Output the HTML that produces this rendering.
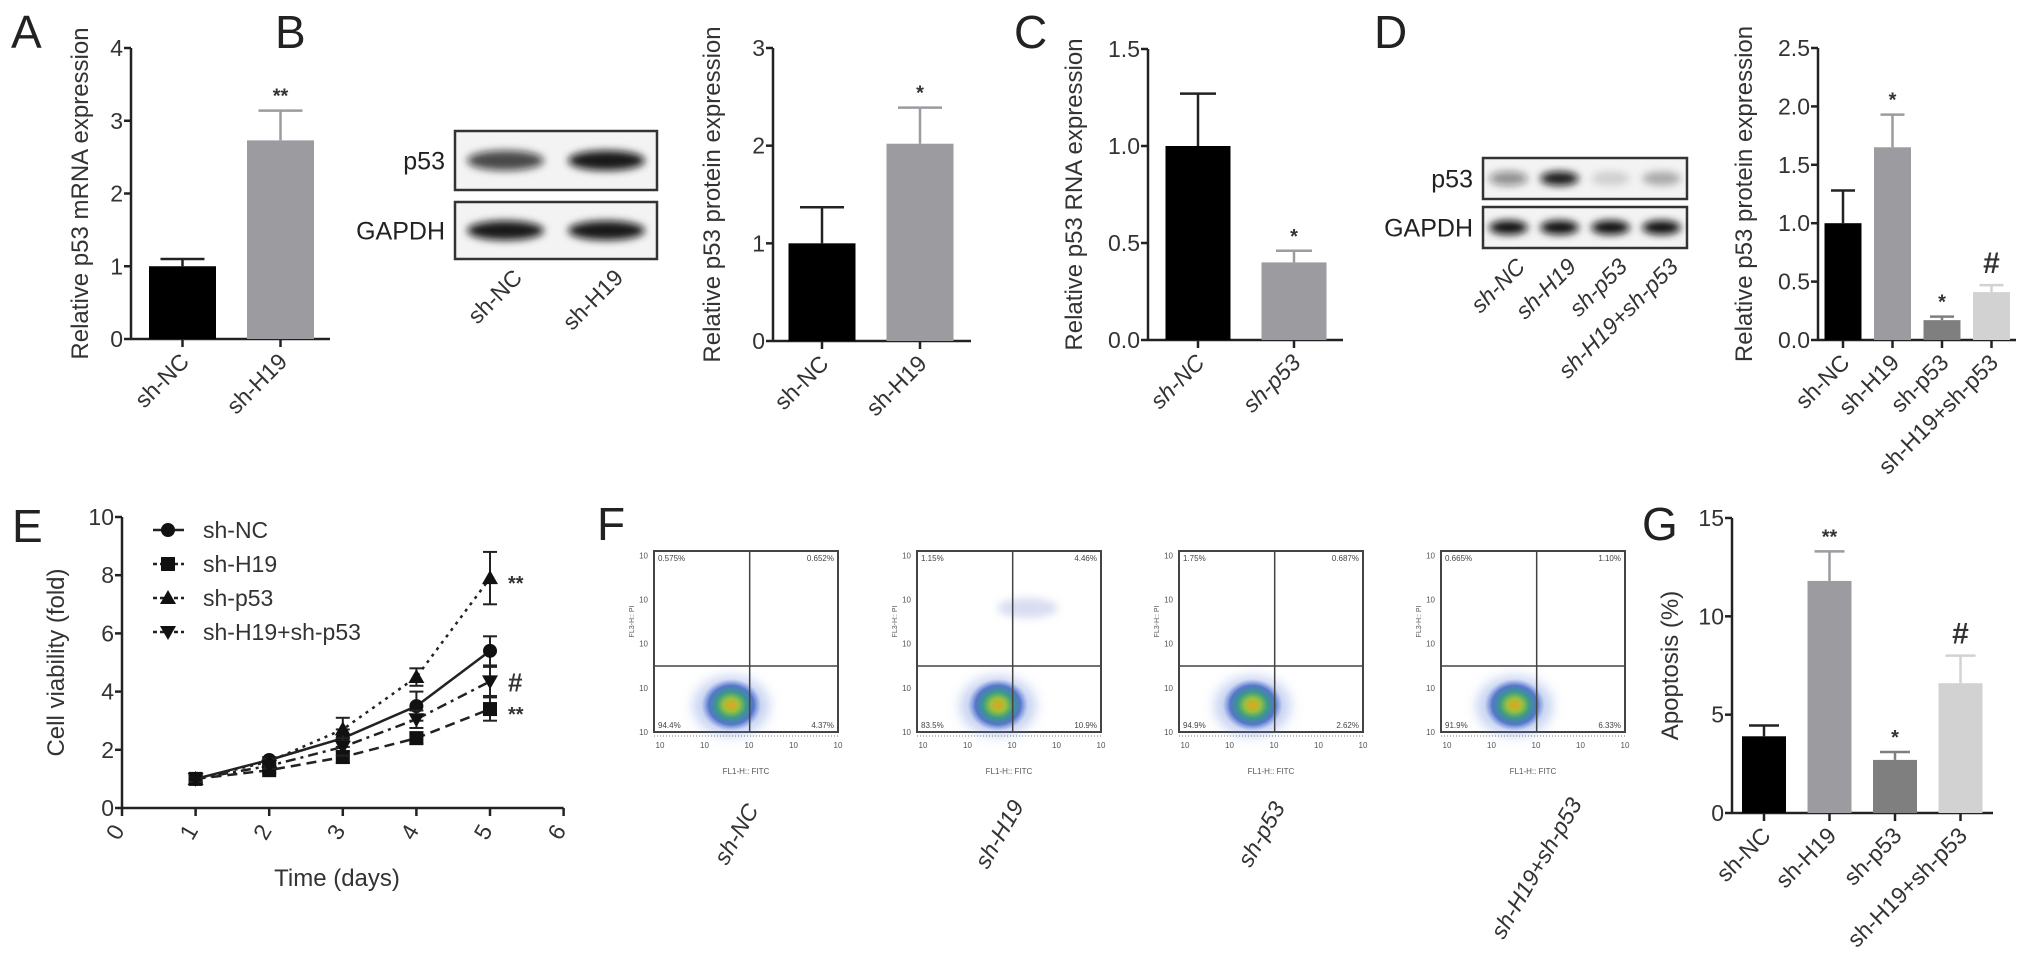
<!DOCTYPE html>
<html><head><meta charset="utf-8"><style>
html,body{margin:0;padding:0;background:#fff;}
svg{display:block;font-family:"Liberation Sans",Arial,sans-serif;}
</style></head><body>
<svg id="fig" width="2031" height="969" viewBox="0 0 2031 969" xmlns="http://www.w3.org/2000/svg">
<defs>
<filter id="blur" x="-50%" y="-50%" width="200%" height="200%"><feGaussianBlur stdDeviation="4"/></filter>
<filter id="blur2" x="-50%" y="-50%" width="200%" height="200%"><feGaussianBlur stdDeviation="6"/></filter>
<radialGradient id="dens" cx="50%" cy="50%" r="50%">
<stop offset="0" stop-color="#e8a020"/><stop offset="0.25" stop-color="#9cc23a"/><stop offset="0.5" stop-color="#3a9a8a"/><stop offset="0.75" stop-color="#3a60c0" stop-opacity="0.8"/><stop offset="1" stop-color="#6080e0" stop-opacity="0"/>
</radialGradient>
</defs>
<g id="layer"></g>
</svg>
<script>
// ---- Data ----
const groups2A = ["sh-NC","sh-H19"];
const valsA = [1.0, 2.73];
const errA = [0.1, 0.41];
const sigA = ["", "**"];
const ticksA = ["0","1","2","3","4"];

const groups2B = ["sh-NC","sh-H19"];
const valsB = [1.0, 2.02];
const errB = [0.37, 0.37];
const sigB = ["", "*"];
const ticksB = ["0","1","2","3"];

const groupsC = ["sh-NC","sh-p53"];
const valsC = [1.0, 0.40];
const errC = [0.27, 0.06];
const sigC = ["", "*"];
const ticksC = ["0.0","0.5","1.0","1.5"];

const groups4 = ["sh-NC","sh-H19","sh-p53","sh-H19+sh-p53"];
const valsD = [1.0, 1.65, 0.17, 0.41];
const errD = [0.28, 0.28, 0.03, 0.06];
const sigD = ["", "*", "*", "#"];
const ticksD = ["0.0","0.5","1.0","1.5","2.0","2.5"];

const valsG = [3.9, 11.8, 2.7, 6.6];
const errG = [0.55, 1.5, 0.4, 1.4];
const sigG = ["", "**", "*", "#"];
const ticksG = ["0","5","10","15"];

const daysE = [1,2,3,4,5];
const seriesNames = ["sh-NC","sh-H19","sh-p53","sh-H19+sh-p53"];
const eNC = [1.0, 1.65, 2.4, 3.5, 5.4];
const eH19 = [1.0, 1.3, 1.75, 2.4, 3.4];
const eP53 = [1.0, 1.6, 2.7, 4.5, 7.9];
const eCombo = [1.0, 1.45, 2.1, 3.05, 4.35];
const errNC = [0.1, 0.1, 0.3, 0.5, 0.5];
const errH19 = [0.1, 0.1, 0.2, 0.2, 0.4];
const errP53 = [0.1, 0.1, 0.4, 0.3, 0.9];
const errCombo = [0.1, 0.1, 0.3, 0.3, 0.5];
const sigE = ["", "**", "**", "#"];
const ticksEY = ["0","2","4","6","8","10"];
const ticksEX = ["0","1","2","3","4","5","6"];

const flowLabels = ["sh-NC","sh-H19","sh-p53","sh-H19+sh-p53"];
const quadUL = ["0.575%","1.15%","1.75%","0.665%"];
const quadUR = ["0.652%","4.46%","0.687%","1.10%"];
const quadLL = ["94.4%","83.5%","94.9%","91.9%"];
const quadLR = ["4.37%","10.9%","2.62%","6.33%"];

// ---- helpers ----
const NS = "http://www.w3.org/2000/svg";
const root = document.getElementById("layer");
function mk(tag, attrs, parent){
  const e = document.createElementNS(NS, tag);
  for (const k in attrs) e.setAttribute(k, attrs[k]);
  (parent||root).appendChild(e);
  return e;
}
function txt(str, attrs, parent){
  const e = mk("text", attrs, parent);
  e.textContent = str;
  return e;
}
const barFills = ["#000000","#9b9ba0","#7f7f80","#d2d2d2"];

function barChart(cfg, cats, vals, errs, sigs, ticks){
  const g = mk("g", {});
  
  
  const maxV = cfg.max;
  const ys = v => cfg.y0 - (v / maxV) * (cfg.y0 - cfg.yTop);
  const xs = i => cfg.c0 + i * cfg.step;
  // y axis
  const ya = mk("line", {x1:cfg.x0, y1:cfg.yTop, x2:cfg.x0, y2:cfg.y0, stroke:"#222", "stroke-width":2.5}, g);
  
  
  const xa = mk("line", {x1:cfg.x0, y1:cfg.y0, x2:cfg.xEnd, y2:cfg.y0, stroke:"#222", "stroke-width":2.5}, g);
  
  
  ticks.forEach((t, i) => {
    const v = i * maxV / (ticks.length - 1);
    const y = ys(v);
    mk("line", {x1:cfg.x0-7, y1:y, x2:cfg.x0, y2:y, stroke:"#222", "stroke-width":2.5}, g);
    const tl = txt(t, {x:cfg.x0-8, y:y+8, "text-anchor":"end", "font-size":23, fill:"#333"}, g);
    
    
  });
  const yt = txt(cfg.title, {x:0, y:0, "text-anchor":"middle", "font-size":24, fill:"#333", transform:`translate(${cfg.titleX},${(cfg.yTop+cfg.y0)/2}) rotate(-90)`}, g);
  
  
  cats.forEach((c, i) => {
    const cx = xs(i);
    const top = ys(vals[i]);
    const b = mk("rect", {x:cx-cfg.bw/2, y:top, width:cfg.bw, height:cfg.y0-top, fill:barFills[i]}, g);
    
    
    const ey = ys(vals[i] + errs[i]);
    const col = i === 0 ? "#222" : barFills[i];
    mk("line", {x1:cx, y1:top, x2:cx, y2:ey, stroke:col, "stroke-width":2.5}, g);
    mk("line", {x1:cx-cfg.cap, y1:ey, x2:cx+cfg.cap, y2:ey, stroke:col, "stroke-width":2.5}, g);
    mk("line", {x1:cx, y1:cfg.y0, x2:cx, y2:cfg.y0+8, stroke:"#222", "stroke-width":2.5}, g);
    if (sigs[i]) {
      const s = txt(sigs[i], {x:cx, y:ey - (sigs[i]==="#"?12:8), "text-anchor":"middle", "font-size":sigs[i]==="#"?30:20, "font-weight":"bold", fill:"#333"}, g);
      
      
    }
    const lx = cx + 8, ly = cfg.y0 + 24;
    const l = txt(c, {x:0, y:0, "text-anchor":"end", "font-size":23, fill:"#333", "font-style":cfg.italic?"italic":"normal", transform:`translate(${lx},${ly}) rotate(-45)`}, g);
    
    
  });
}

barChart({name:"chart-a", x0:131, yTop:48, y0:339, xEnd:330, c0:182.5, step:98, bw:67, cap:22, max:4, title:"Relative p53 mRNA expression", titleX:88}, groups2A, valsA, errA, sigA, ticksA);
barChart({name:"chart-b", x0:773, yTop:48, y0:341, xEnd:971, c0:822, step:98, bw:67, cap:22, max:3, title:"Relative p53 protein expression", titleX:720}, groups2B, valsB, errB, sigB, ticksB);
barChart({name:"chart-c", x0:1148, yTop:49, y0:340, xEnd:1343, c0:1198, step:96, bw:65, cap:18, max:1.5, title:"Relative p53 RNA expression", titleX:1082, italic:true}, groupsC, valsC, errC, sigC, ticksC);
barChart({name:"chart-d", x0:1818, yTop:48, y0:340, xEnd:2016, c0:1843, step:49.5, bw:37, cap:12, max:2.5, title:"Relative p53 protein expression", titleX:1752}, groups4, valsD, errD, sigD, ticksD);
barChart({name:"chart-g", x0:1732, yTop:518, y0:813, xEnd:1993, c0:1764, step:65.5, bw:44, cap:15, max:15, title:"Apoptosis (%)", titleX:1678}, groups4, valsG, errG, sigG, ticksG);

// panel letters
[["A",11,48],["B",275,48],["C",1014,48],["D",1374,48],["E",12,542],["F",597,540],["G",1642,540]].forEach(p=>{
  const t = txt(p[0], {x:p[1], y:p[2], "font-size":46, fill:"#222"});
  
  
});

// ---- Western blots ----
function blot(cfg, lanes, p53I, gI){
  const g = mk("g", {});
  
  
  const w = cfg.x1 - cfg.x0;
  [[cfg.y0,cfg.y1,"p53",p53I],[cfg.y2,cfg.y3,"GAPDH",gI]].forEach(r=>{
    mk("rect", {x:cfg.x0, y:r[0], width:w, height:r[1]-r[0], fill:"#f3f3f3", stroke:"#333", "stroke-width":2.5}, g);
    const lb = txt(r[2], {x:cfg.x0-10, y:(r[0]+r[1])/2+9, "text-anchor":"end", "font-size":25, fill:"#222"}, g);
    
    
    lanes.forEach((ln, i) => {
      const cx = cfg.x0 + w*(i+0.5)/lanes.length;
      const e = mk("ellipse", {cx:cx, cy:(r[0]+r[1])/2, rx:w/lanes.length*0.38, ry:(r[1]-r[0])*0.17, fill:"#111", "fill-opacity":r[3][i], filter:"url(#blur)"}, g);
      
      
    });
  });
  lanes.forEach((ln, i) => {
    const cx = cfg.x0 + w*(i+0.5)/lanes.length;
    const l = txt(ln, {x:0, y:0, "text-anchor":"end", "font-size":23, fill:"#333", "font-style":cfg.italic?"italic":"normal", transform:`translate(${cx+18},${cfg.y3+20}) rotate(-45)`}, g);
    
    
  });
}
blot({name:"blot-b", x0:455, x1:657, y0:131, y1:190, y2:202, y3:259}, groups2B, [0.75,0.95], [0.95,0.95]);
blot({name:"blot-d", x0:1483, x1:1687, y0:158, y1:199, y2:207, y3:248, italic:true}, groups4, [0.45,0.95,0.15,0.3], [1,1,1,1]);

// ---- Line chart E ----
(function(){
  const g = mk("g", {});
  
  
  const X0 = 122, Y0 = 808, YT = 517, xPer = 73.6, yMax = 10;
  const xs = d => X0 + d * xPer;
  const ys = v => Y0 - v / yMax * (Y0 - YT);
  const ya = mk("line", {x1:X0, y1:YT, x2:X0, y2:Y0, stroke:"#222", "stroke-width":2.5}, g);
  
  
  const xa = mk("line", {x1:X0, y1:Y0, x2:xs(6), y2:Y0, stroke:"#222", "stroke-width":2.5}, g);
  
  
  ticksEY.forEach((t,i)=>{
    const y = ys(i*2);
    mk("line", {x1:X0-7, y1:y, x2:X0, y2:y, stroke:"#222", "stroke-width":2.5}, g);
    const tl = txt(t, {x:X0-8, y:y+8, "text-anchor":"end", "font-size":23, fill:"#333"}, g);
    
    
  });
  ticksEX.forEach((t,i)=>{
    const x = xs(i);
    mk("line", {x1:x, y1:Y0, x2:x, y2:Y0+8, stroke:"#222", "stroke-width":2.5}, g);
    const tl = txt(t, {x:0, y:0, "text-anchor":"middle", "font-size":23, fill:"#333", transform:`translate(${x},${Y0+28}) rotate(-60)`}, g);
    
    
  });
  const xt = txt("Time (days)", {x:337, y:886, "text-anchor":"middle", "font-size":24, fill:"#333"}, g);
  
  
  const yt = txt("Cell viability (fold)", {x:0, y:0, "text-anchor":"middle", "font-size":24, fill:"#333", transform:`translate(64,${(YT+Y0)/2}) rotate(-90)`}, g);
  
  

  const allS = [eNC, eH19, eP53, eCombo];
  const allE = [errNC, errH19, errP53, errCombo];
  const dashes = ["none", "10,6", "3,5", "10,5,3,5"];
  const markers = ["circle","square","tri","itri"];
  function marker(type, x, y, parent){
    let m;
    if (type==="circle") m = mk("circle", {cx:x, cy:y, r:7, fill:"#111"}, parent);
    else if (type==="square") m = mk("rect", {x:x-7, y:y-7, width:14, height:14, fill:"#111"}, parent);
    else if (type==="tri") m = mk("polygon", {points:`${x},${y-8} ${x-8},${y+6} ${x+8},${y+6}`, fill:"#111"}, parent);
    else m = mk("polygon", {points:`${x},${y+8} ${x-8},${y-6} ${x+8},${y-6}`, fill:"#111"}, parent);
    return m;
  }
  allS.forEach((s, k)=>{
    const pts = s.map((v,i)=> xs(daysE[i]) + "," + ys(v)).join(" ");
    const pl = mk("polyline", {points:pts, fill:"none", stroke:"#222", "stroke-width":2.5, "stroke-dasharray":dashes[k]}, g);
    
    
    s.forEach((v,i)=>{
      const x = xs(daysE[i]);
      const e = allE[k][i];
      mk("line", {x1:x, y1:ys(v-e), x2:x, y2:ys(v+e), stroke:"#222", "stroke-width":2}, g);
      mk("line", {x1:x-7, y1:ys(v+e), x2:x+7, y2:ys(v+e), stroke:"#222", "stroke-width":2}, g);
      mk("line", {x1:x-7, y1:ys(v-e), x2:x+7, y2:ys(v-e), stroke:"#222", "stroke-width":2}, g);
      const m = marker(markers[k], x, ys(v), g);
      
      
    });
    if (sigE[k]) {
      const last = s[s.length-1];
      const sm = txt(sigE[k], {x:xs(5)+18, y:ys(last)+(sigE[k]==="#"?10:12), "font-size":sigE[k]==="#"?26:20, "font-weight":"bold", fill:"#333"}, g);
      
      
    }
    // legend
    const ly = 530 + k*34;
    const lg = mk("g", {}, g);
    
    
    mk("line", {x1:153, y1:ly, x2:184, y2:ly, stroke:"#222", "stroke-width":2.5, "stroke-dasharray":dashes[k]==="none"?"none":"4,3"}, lg);
    marker(markers[k], 168, ly, lg);
    txt(seriesNames[k], {x:203, y:ly+8, "font-size":23, fill:"#333"}, lg);
  });
})();

// ---- Flow cytometry F ----
const flowX = [654, 917, 1179, 1441];
const clusterCX = [0.42, 0.44, 0.40, 0.40];
flowLabels.forEach((lab, i)=>{
  const g = mk("g", {});
  
  
  const x0 = flowX[i], x1 = x0 + 184, y0 = 551, y1 = 732;
  const qx = x0 + 0.52*(x1-x0), qy = 666;
  mk("rect", {x:x0, y:y0, width:x1-x0, height:y1-y0, fill:"#fff", stroke:"#444", "stroke-width":2}, g);
  // density blob
  const cx = x0 + clusterCX[i]*(x1-x0);
  mk("ellipse", {cx:cx, cy:706, rx:38, ry:30, fill:"#5a7ad8", "fill-opacity":0.35, filter:"url(#blur2)"}, g);
  const bl = mk("ellipse", {cx:cx, cy:705, rx:30, ry:26, fill:"url(#dens)"}, g);
  
  
  if (i===1) {
    mk("ellipse", {cx:qx+15, cy:608, rx:30, ry:10, fill:"#8090d0", "fill-opacity":0.3, filter:"url(#blur)"}, g);
  }
  mk("line", {x1:qx, y1:y0, x2:qx, y2:y1, stroke:"#444", "stroke-width":1.5}, g);
  mk("line", {x1:x0, y1:qy, x2:x1, y2:qy, stroke:"#444", "stroke-width":1.5}, g);
  txt(quadUL[i], {x:x0+4, y:y0+10, "font-size":8, fill:"#444"}, g);
  txt(quadUR[i], {x:x1-4, y:y0+10, "font-size":8, fill:"#444", "text-anchor":"end"}, g);
  txt(quadLL[i], {x:x0+4, y:y1-4, "font-size":8, fill:"#444"}, g);
  txt(quadLR[i], {x:x1-4, y:y1-4, "font-size":8, fill:"#444", "text-anchor":"end"}, g);
  for (let k=0;k<5;k++){
    const y = y1 - k*(y1-y0)/4.1;
    txt("10", {x:x0-6, y:y+3, "font-size":8, fill:"#555", "text-anchor":"end"}, g);
    const x = x0 + 6 + k*(x1-x0-6)/4;
    txt("10", {x:x, y:y1+16, "font-size":8, fill:"#555", "text-anchor":"middle"}, g);
  }
  mk("line", {x1:x0, y1:y1+4, x2:x1, y2:y1+4, stroke:"#777", "stroke-width":1, "stroke-dasharray":"1,2"}, g);
  txt("FL1-H:: FITC", {x:(x0+x1)/2, y:774, "font-size":8, fill:"#555", "text-anchor":"middle"}, g);
  txt("FL3-H:: PI", {x:0, y:0, "font-size":7, fill:"#555", "text-anchor":"middle", transform:`translate(${x0-20},${(y0+y1)/2-20}) rotate(-90)`}, g);
  const cxl = x0 + 0.5*(x1-x0);
  const l = txt(lab, {x:0, y:0, "text-anchor":"middle", "font-size":23, "font-style":"italic", fill:"#333", transform:`translate(${i===3?cxl+10:cxl-3},${i===3?872:838}) rotate(-60)`}, g);
  
  
});
</script>
</body></html>
